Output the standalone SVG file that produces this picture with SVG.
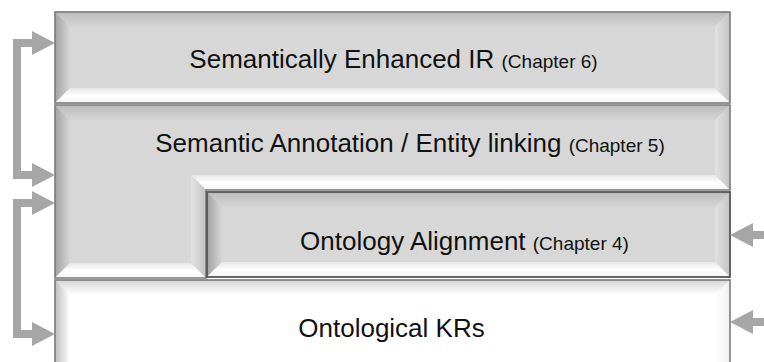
<svg xmlns="http://www.w3.org/2000/svg" width="764" height="362" viewBox="0 0 764 362">
<style>
.t{font-family:"Liberation Sans",Arial,sans-serif;font-size:26px;fill:#111;text-anchor:middle}
.c{font-size:19px}
.face{fill:#d7d7d7}
.faceW{fill:#ffffff}
.b{fill:none;stroke:#7a7a7a;stroke-width:1.6}
.arr{fill:#a6a6a6}
.sh{fill:none;stroke:#a6a6a6;stroke-width:8}
</style>
<defs>
<linearGradient id="gT" x1="0" y1="0" x2="0" y2="1"><stop offset="0" stop-color="#bcbcbc"/><stop offset="1" stop-color="#d5d5d5"/></linearGradient>
<linearGradient id="gL" x1="0" y1="0" x2="1" y2="0"><stop offset="0" stop-color="#a2a2a2"/><stop offset="1" stop-color="#d5d5d5"/></linearGradient>
<linearGradient id="gR" x1="0" y1="0" x2="1" y2="0"><stop offset="0" stop-color="#e2e2e2"/><stop offset="1" stop-color="#c4c4c4"/></linearGradient>
<linearGradient id="gB" x1="0" y1="0" x2="0" y2="1"><stop offset="0" stop-color="#e6e6e6"/><stop offset="0.5" stop-color="#ffffff"/><stop offset="1" stop-color="#f4f4f4"/></linearGradient>
<linearGradient id="gTW" x1="0" y1="0" x2="0" y2="1"><stop offset="0" stop-color="#d6d6d6"/><stop offset="1" stop-color="#ffffff"/></linearGradient>
<linearGradient id="gLW" x1="0" y1="0" x2="1" y2="0"><stop offset="0" stop-color="#bdbdbd"/><stop offset="1" stop-color="#ffffff"/></linearGradient>
<linearGradient id="gRW" x1="0" y1="0" x2="1" y2="0"><stop offset="0" stop-color="#ffffff"/><stop offset="1" stop-color="#f0f0f0"/></linearGradient>
</defs>

<g id="node-ir">
<rect class="face" x="55" y="12" width="675" height="91"/>
<polygon fill="url(#gT)" points="55,12 730,12 715,27 70,27"/>
<polygon fill="url(#gL)" points="55,12 70,27 70,88 55,103"/>
<polygon fill="url(#gR)" points="730,12 730,103 715,88 715,27"/>
<polygon fill="url(#gB)" points="55,103 730,103 715,88 70,88"/>
<rect class="b" x="55" y="12" width="675" height="91"/>
<text class="t" x="393.5" y="68">Semantically Enhanced IR <tspan class="c">(Chapter 6)</tspan></text>
</g>

<g id="node-annot">
<polygon class="face" points="55,105 730,105 730,190 206,190 206,278 55,278"/>
<polygon fill="url(#gT)" points="55,105 730,105 715,120 70,120"/>
<polygon fill="url(#gL)" points="55,105 70,120 70,263 55,278"/>
<polygon fill="url(#gR)" points="730,105 730,190 715,175 715,120"/>
<polygon fill="url(#gB)" points="730,190 206,190 191,175 715,175"/>
<polygon fill="url(#gR)" points="206,190 206,278 191,263 191,175"/>
<polygon fill="url(#gB)" points="206,278 55,278 70,263 191,263"/>
<polygon class="b" points="55,105 730,105 730,190 206,190 206,278 55,278"/>
<text class="t" x="410" y="152">Semantic Annotation / Entity linking <tspan class="c">(Chapter 5)</tspan></text>
</g>

<g id="node-align">
<rect class="face" x="207" y="192" width="523" height="85"/>
<polygon fill="url(#gT)" points="207,192 730,192 715,207 222,207"/>
<polygon fill="url(#gL)" points="207,192 222,207 222,262 207,277"/>
<polygon fill="url(#gR)" points="730,192 730,277 715,262 715,207"/>
<polygon fill="url(#gB)" points="207,277 730,277 715,262 222,262"/>
<rect x="207" y="192" width="523" height="85" fill="none" stroke="#555" stroke-width="1.8"/>
<text class="t" x="464.5" y="250">Ontology Alignment <tspan class="c">(Chapter 4)</tspan></text>
</g>

<g id="node-kr">
<rect class="faceW" x="55" y="280" width="675" height="95"/>
<polygon fill="url(#gTW)" points="55,280 730,280 715,295 70,295"/>
<polygon fill="url(#gLW)" points="55,280 70,295 70,375 55,375"/>
<polygon fill="url(#gRW)" points="730,280 730,375 715,375 715,295"/>
<rect class="b" x="55" y="280" width="675" height="95"/>
<text class="t" x="391.5" y="337">Ontological KRs</text>
</g>

<g id="connectors">
<path class="sh" d="M36,43 H17 V175 H36"/>
<polygon class="arr" points="32,31 55,43 32,55"/>
<polygon class="arr" points="32,163 55,175 32,187"/>
<path class="sh" d="M36,203 H17 V334 H36"/>
<polygon class="arr" points="32,191 55,203 32,215"/>
<polygon class="arr" points="32,322 55,334 32,346"/>
<path class="sh" d="M764,235 H750"/>
<polygon class="arr" points="753,223 730,235 753,247"/>
<path class="sh" d="M764,322 H750"/>
<polygon class="arr" points="753,310 730,322 753,334"/>
</g>
</svg>
